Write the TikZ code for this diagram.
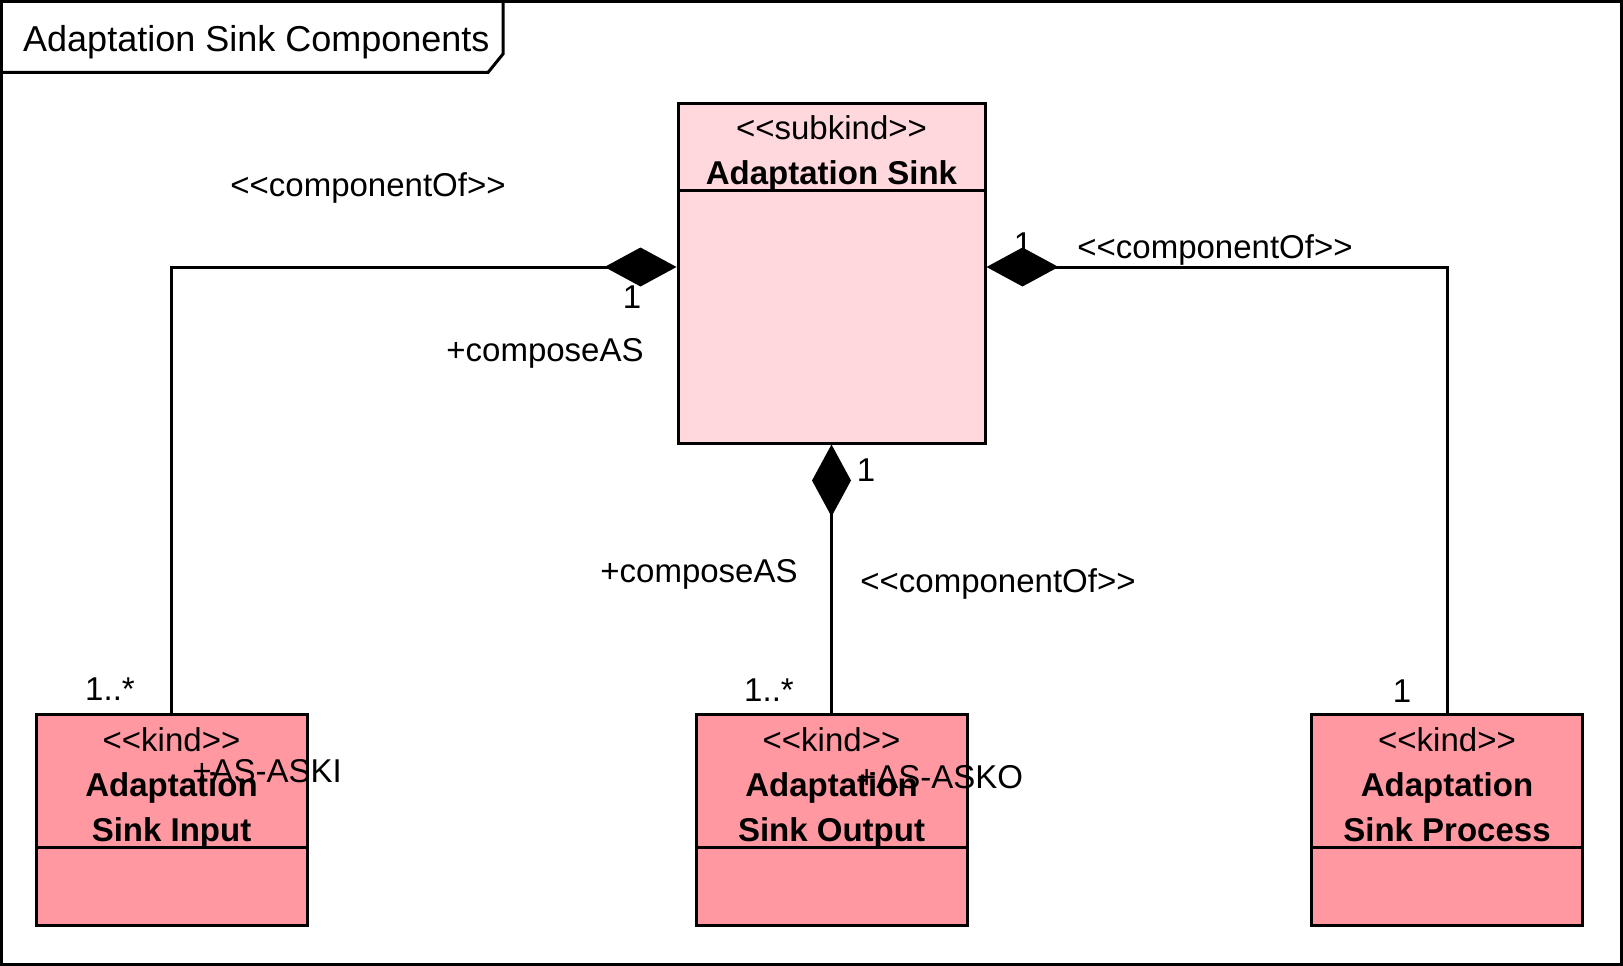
\documentclass[tikz,border=0pt]{standalone}
\usepackage{fontspec}
\setmainfont{Liberation Sans}[Ligatures=TeXOff]
\usetikzlibrary{arrows.meta}
\usetikzlibrary{positioning}
\definecolor{sinkpink}{RGB}{255,216,221}
\definecolor{kindpink}{RGB}{255,152,160}
\tikzset{
  subkindbox/.style={rectangle, draw, fill=sinkpink, line width=3pt, minimum width=307pt, minimum height=340pt, inner sep=0pt},
  kindbox/.style={rectangle, draw, fill=kindpink, line width=3pt, minimum width=271pt, minimum height=211pt, inner sep=0pt},
  header/.style={align=center, inner sep=0pt, font=\fontsize{33}{45}\selectfont},
  role/.style={inner sep=0pt, font=\fontsize{33}{40}\selectfont},
  compose/.style={draw, line width=3pt, -{Diamond[length=72pt, width=39pt]}}
  }

\begin{document}
\begin{tikzpicture}[x=1pt, y=-1pt]
	\useasboundingbox (0,0) rectangle (1623,966);
	% Frame
	\draw [line width=3pt] (1.5,1.5) rectangle (1621.5,964.5);
	\draw [line width=3pt] (1.5,72.5) -- (488,72.5) -- (503,54) -- (503,1.5);
	\node [anchor=west, inner sep=0pt, font=\fontsize{36}{40}\selectfont] (title) at (23,42) {Adaptation Sink Components};

	% Nodes
	\node[subkindbox] (sink) at (831.5,273) {};
	\node[kindbox] (input) at (171.5,819.5) {};
	\node[kindbox] (output) at (831.5,819.5) {};
	\node[kindbox] (process) at (1447,819.5) {};

	\draw [line width=3pt] ([yshift=-89pt]sink.north west) -- ([yshift=-89pt]sink.north east);
	\draw [line width=3pt] ([yshift=-135pt]input.north west) -- ([yshift=-135pt]input.north east);
	\draw [line width=3pt] ([yshift=-135pt]output.north west) -- ([yshift=-135pt]output.north east);
	\draw [line width=3pt] ([yshift=-135pt]process.north west) -- ([yshift=-135pt]process.north east);

	\node[header, below=14pt of sink.north] (sinkname) {<<subkind>>\\\textbf{Adaptation Sink}};
	\node[header, below=15pt of input.north] (inputname) {<<kind>>\\\textbf{Adaptation}\\\textbf{Sink Input}};
	\node[header, below=15pt of output.north] (outputname) {<<kind>>\\\textbf{Adaptation}\\\textbf{Sink Output}};
	\node[header, below=15pt of process.north] (processname) {<<kind>>\\\textbf{Adaptation}\\\textbf{Sink Process}};

	% Arrow
	\draw [compose] (input.north) |- ([yshift=6pt]sink.west);
	\draw [compose] (process.north) |- ([yshift=6pt]sink.east);
	\draw [compose] (output.north) -- (sink.south);

	% Labels
	\node[role] (compleft) at (368,188) {<<componentOf>>};
	\node[role] (multleft) at (632,297) {1};
	\node[role] (roleleft) at (545,353) {+composeAS};
	\node[role] (multinput) at (110,689) {1..*};
	\node[role] (roleinput) at (267,771) {+AS-ASKI};
	\node[role] (multright) at (1023,244) {1};
	\node[role] (compright) at (1215,250) {<<componentOf>>};
	\node[role] (multbottom) at (866,470) {1};
	\node[role] (rolebottom) at (699,574) {+composeAS};
	\node[role] (compbottom) at (998,584) {<<componentOf>>};
	\node[role] (multoutput) at (769,690) {1..*};
	\node[role] (roleoutput) at (940,777) {+AS-ASKO};
	\node[role] (multprocess) at (1402,691) {1};
\end{tikzpicture}
\end{document}
